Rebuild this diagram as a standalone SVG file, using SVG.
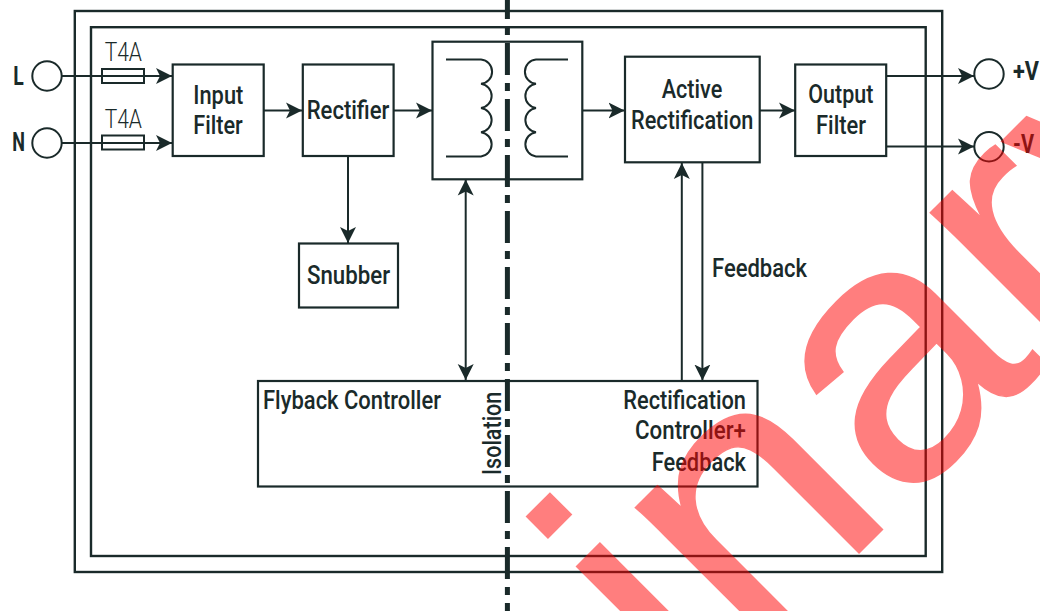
<svg xmlns="http://www.w3.org/2000/svg" width="1040" height="611" viewBox="0 0 1040 611">
<style>
.b{fill:none;stroke:#1a2a2a;stroke-width:2.2}
.w{fill:none;stroke:#1a2a2a;stroke-width:2.4}
.c{fill:none;stroke:#1a2a2a;stroke-width:2}
.t{font-family:"Roboto","Liberation Sans",sans-serif;font-size:25px;font-weight:500;fill:#1a2a2a}
.l{font-weight:300}
.k{font-weight:700}
.wm{font-family:"Liberation Sans",Arial,sans-serif;font-size:375px;fill:#f00;stroke:#f00;stroke-width:1.5;opacity:.5}
</style>
<defs>
<marker id="a" markerUnits="userSpaceOnUse" markerWidth="18" markerHeight="18" refX="16" refY="9" orient="auto-start-reverse" viewBox="0 0 18 18"><path d="M0,1L16,9L0,17L4,9z" fill="#1a2a2a"/></marker>
</defs>
<g id="frames">
<rect class="w" x="74.8" y="11" width="867.4" height="561"/>
<rect class="w" x="91" y="27.2" width="834.7" height="528.8"/>
</g>
<g id="connectors" class="c">
<path d="M62,76H172" marker-end="url(#a)"/>
<path d="M62,143H172" marker-end="url(#a)"/>
<path d="M264,110.5H302" marker-end="url(#a)"/>
<path d="M393.5,110.5H432" marker-end="url(#a)"/>
<path d="M582,110.5H624.5" marker-end="url(#a)"/>
<path d="M759.7,110.5H795" marker-end="url(#a)"/>
<path d="M886,76H974" marker-end="url(#a)"/>
<path d="M886,146.4H974" marker-end="url(#a)"/>
<path d="M348,156V243" marker-end="url(#a)"/>
<path d="M465.7,179.5V380" marker-start="url(#a)" marker-end="url(#a)"/>
<path d="M681.8,381V163" marker-end="url(#a)"/>
<path d="M702.4,162V380.5" marker-end="url(#a)"/>
</g>
<g id="L"><circle class="c" cx="47" cy="76" r="14.7"/><text class="t k" x="13.3" y="85" textLength="10.5" lengthAdjust="spacingAndGlyphs">L</text></g>
<g id="N"><circle class="c" cx="47" cy="143" r="14.7"/><text class="t k" x="12.3" y="150.7" textLength="12.7" lengthAdjust="spacingAndGlyphs">N</text></g>
<g id="fuse1"><rect class="c" x="102" y="69" width="42" height="14"/><path class="c" d="M102,76H144"/><text class="t l" x="104.7" y="61" textLength="37.3" lengthAdjust="spacingAndGlyphs">T4A</text></g>
<g id="fuse2"><rect class="c" x="102" y="135.5" width="42" height="14"/><path class="c" d="M102,143H144"/><text class="t l" x="104.7" y="128" textLength="37.3" lengthAdjust="spacingAndGlyphs">T4A</text></g>
<g id="input-filter"><rect class="b" x="172.7" y="64.5" width="91" height="91.5"/><text class="t" x="193.3" y="103.5" textLength="50" lengthAdjust="spacingAndGlyphs">Input</text><text class="t" x="193.3" y="134" textLength="49.500" lengthAdjust="spacingAndGlyphs">Filter</text></g>
<g id="rectifier"><rect class="b" x="302.8" y="64.5" width="90.8" height="91.5"/><text class="t" x="306.7" y="119" textLength="82.7" lengthAdjust="spacingAndGlyphs">Rectifier</text></g>
<g id="transformer"><rect class="b" x="432.5" y="41.7" width="149.8" height="137.6"/>
<path class="c" d="M446,59.5H481A12.2,12.2 0 0 1 481,83.8A12.2,12.2 0 0 1 481,108A12.2,12.2 0 0 1 481,132.2A12.2,12.2 0 0 1 481,156.4H446"/>
<path class="c" d="M568,59.5H536A12.2,12.2 0 0 0 536,83.8A12.2,12.2 0 0 0 536,108A12.2,12.2 0 0 0 536,132.2A12.2,12.2 0 0 0 536,156.4H568"/></g>
<g id="active-rectification"><rect class="b" x="625" y="56.7" width="134.7" height="105.6"/><text class="t" x="661.7" y="98.3" textLength="60.6" lengthAdjust="spacingAndGlyphs">Active</text><text class="t" x="631" y="129" textLength="122.3" lengthAdjust="spacingAndGlyphs">Rectification</text></g>
<g id="output-filter"><rect class="b" x="795.2" y="64.5" width="91" height="91.5"/><text class="t" x="808.3" y="103.3" textLength="65" lengthAdjust="spacingAndGlyphs">Output</text><text class="t" x="816" y="134" textLength="50" lengthAdjust="spacingAndGlyphs">Filter</text></g>
<g id="plus-v"><circle class="c" cx="989" cy="74" r="14.7"/><text class="t k" x="1013" y="79.5" textLength="26" lengthAdjust="spacingAndGlyphs">+V</text></g>
<g id="minus-v"><circle class="c" cx="989" cy="146.7" r="14.7"/><text class="t k" x="1013" y="152.7" textLength="21" lengthAdjust="spacingAndGlyphs">-V</text></g>
<g id="snubber"><rect class="b" x="299" y="243.5" width="99" height="64"/><text class="t" x="307" y="284" textLength="83" lengthAdjust="spacingAndGlyphs">Snubber</text></g>
<g id="feedback-label"><text class="t" x="712" y="276.7" textLength="95" lengthAdjust="spacingAndGlyphs">Feedback</text></g>
<g id="controller"><rect class="b" x="258" y="381" width="499.5" height="105.5"/>
<text class="t" x="263" y="409" textLength="178" lengthAdjust="spacingAndGlyphs">Flyback Controller</text>
<text class="t" x="623.3" y="409" textLength="122.7" lengthAdjust="spacingAndGlyphs">Rectification</text>
<text class="t" x="635" y="439.3" textLength="111" lengthAdjust="spacingAndGlyphs">Controller+</text>
<text class="t" x="651.7" y="470.7" textLength="94.3" lengthAdjust="spacingAndGlyphs">Feedback</text>
<text class="t" transform="translate(500.7 475) rotate(-90)" textLength="83.3" lengthAdjust="spacingAndGlyphs">Isolation</text></g>
<path id="isolation-line" d="M507.4,-13V611" fill="none" stroke="#1a2a2a" stroke-width="5" stroke-dasharray="32 8 8 8"/>
<text class="wm" transform="translate(-58 1470) rotate(-45) scale(1 .96)">Preliminary</text>
</svg>
